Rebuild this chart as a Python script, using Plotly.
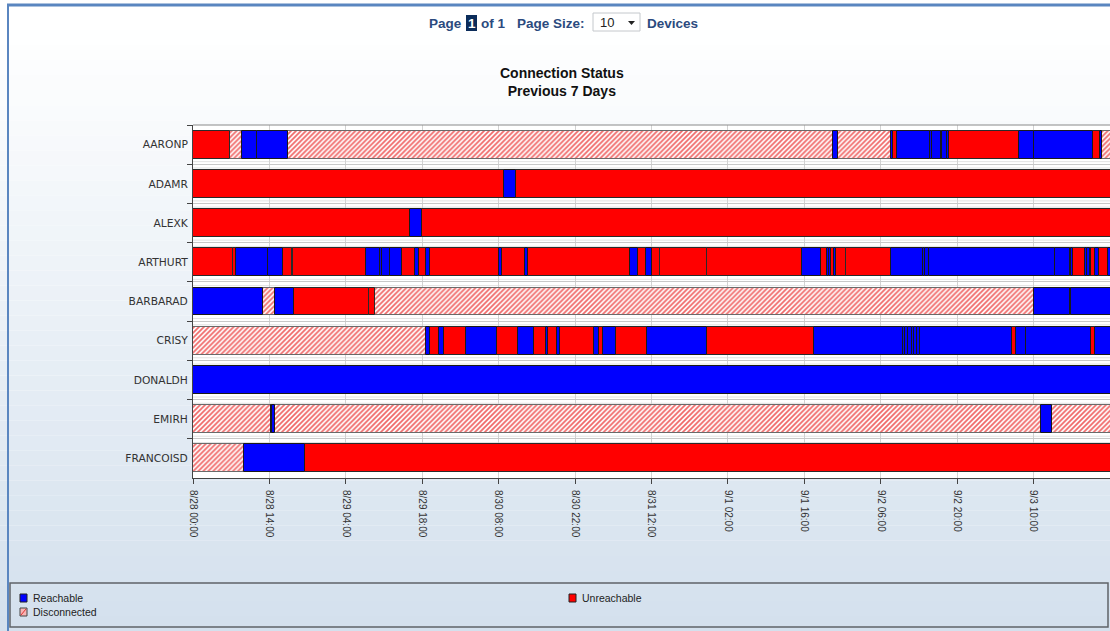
import pandas as pd
import plotly.graph_objects as go

# ---------------- data ----------------
devices = ["AARONP", "ADAMR", "ALEXK", "ARTHURT", "BARBARAD", "CRISY", "DONALDH", "EMIRH", "FRANCOISD"]
state_names = {"R": "Reachable", "U": "Unreachable", "D": "Disconnected"}

# segment boundaries in hours since 8/28 00:00 and the state of each segment
aaronp_hours = [0, 6.8, 8.9, 11.7, 17.4, 117.2, 118.2, 127.8, 128.3, 128.9, 135.0, 135.3, 137.0, 137.3,
                138.1, 138.5, 151.3, 154.1, 164.9, 166.2, 166.5, 168]
aaronp_states = ["U", "D", "R", "R", "D", "R", "D", "R", "U", "R", "R", "R", "R", "R", "R", "U", "R", "R",
                 "U", "R", "D"]

adamr_hours = [0, 57.0, 59.1, 168]
adamr_states = ["U", "R", "U"]

alexk_hours = [0, 39.8, 41.9, 168]
alexk_states = ["U", "R", "U"]

arthurt_hours = [0, 7.4, 7.8, 13.8, 16.4, 18.1, 18.4, 31.7, 34.3, 34.7, 36.0, 38.2, 40.7, 41.4, 42.7, 43.5,
                 56.0, 56.7, 60.8, 61.3, 80.1, 81.6, 82.9, 84.0, 85.5, 94.1, 111.5, 115.1, 116.1, 116.6,
                 116.9, 117.4, 117.8, 119.6, 127.8, 133.8, 134.1, 134.9, 157.9, 160.6, 160.9, 161.3,
                 163.4, 163.8, 164.3, 164.6, 165.3, 166.0, 167.7, 168]
arthurt_states = ["U", "U", "R", "R", "U", "U", "U", "R", "R", "R", "R", "U", "R", "U", "R", "U",
                  "R", "U", "R", "U", "R", "U", "R", "U", "U", "U", "R", "U", "R", "R",
                  "U", "R", "U", "U", "R", "R", "R", "R", "R", "R", "R", "U",
                  "R", "R", "R", "U", "R", "U", "R"]

barbarad_hours = [0, 12.8, 15.0, 18.5, 32.3, 33.3, 154.1, 160.6, 160.9, 168]
barbarad_states = ["R", "D", "R", "U", "U", "D", "R", "R", "R"]

crisy_hours = [0, 42.6, 43.4, 45.1, 45.9, 50.0, 55.75, 59.5, 62.5, 64.6, 65.1, 66.75, 67.25, 73.5, 74.4,
               75.1, 77.5, 83.1, 94.1, 113.7, 130.0, 130.4, 130.9, 131.7, 132.1, 132.6, 133.1, 150.0,
               150.7, 152.6, 164.5, 165.3, 168]
crisy_states = ["D", "R", "U", "R", "U", "R", "U", "R", "U", "R", "U", "R", "U", "R", "U",
                "R", "U", "R", "U", "R", "R", "R", "R", "R", "R", "R", "R", "U",
                "R", "R", "U", "R"]

donaldh_hours = [0, 168]
donaldh_states = ["R"]

emirh_hours = [0, 14.2, 14.5, 15.0, 155.3, 157.3, 168]
emirh_states = ["D", "R", "R", "D", "R", "D"]

francoisd_hours = [0, 9.4, 20.6, 168]
francoisd_states = ["D", "R", "U"]

device_hours = [aaronp_hours, adamr_hours, alexk_hours, arthurt_hours, barbarad_hours,
                crisy_hours, donaldh_hours, emirh_hours, francoisd_hours]
device_states = [aaronp_states, adamr_states, alexk_states, arthurt_states, barbarad_states,
                 crisy_states, donaldh_states, emirh_states, francoisd_states]

t0 = pd.Timestamp("2013-08-28 00:00")
t1 = pd.Timestamp("2013-09-04 00:00")

# ---------------- build segments per state ----------------
segs = {"R": ([], [], []), "U": ([], [], []), "D": ([], [], [])}
for dev, hrs, sts in zip(devices, device_hours, device_states):
    for i, st in enumerate(sts):
        s, e = hrs[i], hrs[i + 1]
        if e >= 168:
            e = 168.3  # run past the clipped right edge
        ys, xs, bs = segs[st]
        ys.append(dev)
        xs.append((e - s) * 3600 * 1000)
        bs.append((t0 + pd.Timedelta(hours=s)).strftime("%Y-%m-%d %H:%M:%S"))

fig = go.Figure()
BAR_W = 0.71
ys, xs, bs = segs["D"]
fig.add_trace(go.Bar(
    name="Disconnected", y=ys, x=xs, base=bs, orientation="h", width=BAR_W,
    marker=dict(color="#ffffff", line=dict(color="#6a6a6a", width=1),
                pattern=dict(shape="/", fgcolor="#f06a6a", bgcolor="#ffffff", size=3.5, solidity=0.5,
                             fillmode="replace")),
    hoverinfo="skip", showlegend=False))
ys, xs, bs = segs["U"]
fig.add_trace(go.Bar(
    name="Unreachable", y=ys, x=xs, base=bs, orientation="h", width=BAR_W,
    marker=dict(color="#ff0000", line=dict(color="#2a2a2a", width=1)),
    hoverinfo="skip", showlegend=False))
ys, xs, bs = segs["R"]
fig.add_trace(go.Bar(
    name="Reachable", y=ys, x=xs, base=bs, orientation="h", width=BAR_W,
    marker=dict(color="#0000ff", line=dict(color="#1a1a1a", width=1)),
    hoverinfo="skip", showlegend=False))

# ---------------- layout geometry ----------------
W, H = 1110, 631
X0, X1, Y0, Y1 = 193, 1110, 125, 478


def px(x):
    return (x - X0) / (X1 - X0)


def py(y):
    return (Y1 - y) / (Y1 - Y0)


shapes = []
# background gradient (white at top to light steel blue at bottom)
top_c = (255, 255, 255)
bot_c = (211, 224, 237)
nb = 40
g0 = 30
for i in range(nb):
    ya = g0 + (H - g0) * i / nb
    yb = g0 + (H - g0) * (i + 1) / nb
    f = (i + 0.5) / nb
    c = tuple(int(round(top_c[k] + (bot_c[k] - top_c[k]) * f)) for k in range(3))
    shapes.append(dict(type="rect", xref="paper", yref="paper", layer="below",
                       x0=px(0), x1=px(W), y0=py(yb), y1=py(ya),
                       fillcolor="rgb(%d,%d,%d)" % c, line=dict(width=0)))
shapes.append(dict(type="rect", xref="paper", yref="paper", layer="below",
                   x0=px(0), x1=px(W), y0=py(g0), y1=py(0),
                   fillcolor="#ffffff", line=dict(width=0)))
# plot area white
shapes.append(dict(type="rect", xref="paper", yref="paper", layer="below",
                   x0=0, x1=1, y0=0, y1=1, fillcolor="#ffffff", line=dict(width=0)))
# faint extra separator lines in the gaps between rows
for i in range(len(devices) - 1):
    for d, col in ((-0.065, "#e2e2e2"), (0.095, "#e2e2e2")):
        shapes.append(dict(type="line", xref="paper", yref="y", layer="below", x0=0, x1=1,
                           y0=i + 0.5 + d, y1=i + 0.5 + d, line=dict(color=col, width=1)))
# top frame line of plot
shapes.append(dict(type="line", xref="paper", yref="paper", x0=0, x1=1, y0=1, y1=1,
                   line=dict(color="#8a8a8a", width=1)))
# page borders
shapes.append(dict(type="line", xref="paper", yref="paper", x0=px(8), x1=px(8), y0=py(H), y1=py(4),
                   line=dict(color="#5a86c0", width=2)))
shapes.append(dict(type="line", xref="paper", yref="paper", x0=px(7), x1=px(W), y0=py(5), y1=py(5),
                   line=dict(color="#5a86c0", width=3)))
# header widgets
shapes.append(dict(type="rect", xref="paper", yref="paper", x0=px(466), x1=px(477), y0=py(31), y1=py(15),
                   fillcolor="#0b2c5a", line=dict(width=0)))
shapes.append(dict(type="rect", xref="paper", yref="paper", x0=px(593), x1=px(640), y0=py(31), y1=py(13),
                   fillcolor="#ffffff", line=dict(color="#c4c8cc", width=1)))
shapes.append(dict(type="path", xref="paper", yref="paper",
                   path="M %f %f L %f %f L %f %f Z" % (px(628), py(21), px(635), py(21), px(631.5), py(25)),
                   fillcolor="#222222", line=dict(width=0)))
# legend box
shapes.append(dict(type="rect", xref="paper", yref="paper", x0=px(10), x1=px(1108), y0=py(627), y1=py(583),
                   fillcolor="rgba(0,0,0,0)", line=dict(color="#5f6368", width=1.5)))
# legend swatches
shapes.append(dict(type="rect", xref="paper", yref="paper", x0=px(20), x1=px(27), y0=py(602), y1=py(594),
                   fillcolor="#0000ff", line=dict(color="#222", width=1)))
shapes.append(dict(type="rect", xref="paper", yref="paper", x0=px(569), x1=px(576), y0=py(602), y1=py(594),
                   fillcolor="#ff0000", line=dict(color="#222", width=1)))
shapes.append(dict(type="rect", xref="paper", yref="paper", x0=px(20), x1=px(27), y0=py(616), y1=py(608),
                   fillcolor="#f7b4b4", line=dict(color="#444", width=1)))
shapes.append(dict(type="line", xref="paper", yref="paper", x0=px(21), x1=px(26), y0=py(615), y1=py(609),
                   line=dict(color="#e03030", width=1)))

ARIAL = "Liberation Sans, Arial, sans-serif"
HDR = "#2b4a7e"
annotations = []


def ann(text, x, y, size, color, bold=False, xanchor="center", family=ARIAL):
    annotations.append(dict(text=("<b>%s</b>" % text) if bold else text, x=px(x), y=py(y),
                            xref="paper", yref="paper", xanchor=xanchor, yanchor="middle",
                            showarrow=False, font=dict(family=family, size=size, color=color)))


ann("Page", 445, 23, 13.5, HDR, True)
ann("1", 471.5, 23, 13.5, "#ffffff", True)
ann("of 1", 493, 23, 13.5, HDR, True)
ann("Page Size:", 551, 23, 13.5, HDR, True)
ann("10", 606.5, 22.5, 13, "#222222")
ann("Devices", 672.5, 23, 13.5, HDR, True)
annotations.append(dict(text="<b>Connection Status</b><br><b>Previous 7 Days</b>", x=px(562), y=py(82),
                        xref="paper", yref="paper", xanchor="center", yanchor="middle", showarrow=False,
                        font=dict(family=ARIAL, size=14, color="#111111")))
ann("Reachable", 31, 598, 10.5, "#222222", xanchor="left")
ann("Unreachable", 580, 598, 10.5, "#222222", xanchor="left")
ann("Disconnected", 31, 612, 10.5, "#222222", xanchor="left")

fig.update_layout(
    width=W, height=H, autosize=False,
    margin=dict(l=X0, r=W - X1, t=Y0, b=H - Y1, pad=0),
    paper_bgcolor="#ffffff", plot_bgcolor="#ffffff",
    barmode="overlay", bargap=0,
    shapes=shapes, annotations=annotations,
    showlegend=False,
)
fig.update_xaxes(
    type="date", range=[t0, t1], tick0=t0, dtick=14 * 3600 * 1000,
    tickformat="%-m/%-d %H:%M", tickangle=90,
    ticks="outside", ticklen=5, tickcolor="#444444", ticklabelstandoff=4,
    tickfont=dict(family=ARIAL, size=10, color="#333333"),
    showgrid=True, gridcolor="#d2d2d2", gridwidth=1,
    showline=True, linecolor="#444444", linewidth=1,
    zeroline=False, fixedrange=True,
)
fig.update_yaxes(
    type="category", categoryorder="array", categoryarray=devices,
    range=[len(devices) - 0.5, -0.5], tickson="boundaries",
    ticks="outside", ticklen=5, tickcolor="#444444", ticklabelstandoff=2,
    tickfont=dict(family="DejaVu Sans, sans-serif", size=10.7, color="#333333"),
    showgrid=True, gridcolor="#c8c8c8", gridwidth=1,
    showline=True, linecolor="#444444", linewidth=1,
    zeroline=False, fixedrange=True,
)

fig.write_html("out.html", config={"displayModeBar": False},
               post_script="document.body.style.margin='0';document.body.style.overflow='hidden';")
